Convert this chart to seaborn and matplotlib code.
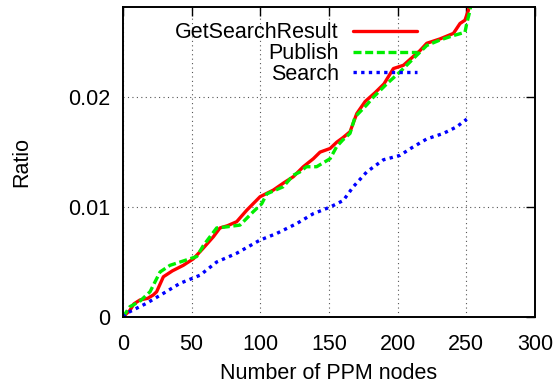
import matplotlib
matplotlib.use("Agg")
import matplotlib.pyplot as plt
import seaborn as sns
import pandas as pd

# GetSearchResult
gsr_x = [0, 5, 8, 12.4, 18, 22, 24.5, 29.4, 36, 43.9, 51.3, 58, 65.8, 70.6, 76, 82.8, 90, 99.8,
         109.5, 117, 124, 131.3, 138.6, 143.5, 150.8, 155.6, 160, 165.3, 170.2, 176.3, 183.5,
         190, 196.9, 204.2, 211.4, 216, 221.2, 230.9, 240.6, 245.4, 249, 251.5, 252.5]
gsr_y = [0, 0.0006, 0.0012, 0.00155, 0.0017, 0.0020, 0.0023, 0.00366, 0.0042, 0.0047, 0.0053,
         0.0062, 0.0073, 0.0081, 0.0083, 0.00867, 0.0097, 0.01094, 0.01155, 0.0122, 0.01276,
         0.01367, 0.0144, 0.0150, 0.01533, 0.0159, 0.0163, 0.01685, 0.0185, 0.0196, 0.0204,
         0.0212, 0.0226, 0.0229, 0.0237, 0.0242, 0.0249, 0.0253, 0.0258, 0.0267, 0.0270,
         0.0279, 0.0285]

# Publish
pub_x = [0, 5, 12, 19.7, 27, 34.2, 46.4, 53.7, 58.5, 68.2, 75.5, 85.2, 95, 101, 104.7, 116.7,
         124, 128.9, 133.5, 141, 150.8, 155.6, 160, 165.3, 169, 177.5, 182.3, 187.2, 192,
         201.7, 211.4, 221.2, 230.9, 240.6, 249, 250.3, 252.7, 253.5]
pub_y = [0, 0.00094, 0.0014, 0.0023, 0.0041, 0.0047, 0.0052, 0.0055, 0.0065, 0.0081, 0.0082,
         0.00836, 0.0096, 0.0103, 0.0112, 0.01185, 0.0129, 0.0132, 0.01367, 0.01367, 0.0144,
         0.0155, 0.0161, 0.0167, 0.0182, 0.0193, 0.0200, 0.0206, 0.0212, 0.0223, 0.0235,
         0.0247, 0.0252, 0.0256, 0.0259, 0.0267, 0.0279, 0.0285]

# Search
sea_x = [0, 2.7, 17.2, 29.4, 41.5, 56.1, 68.2, 82.8, 99.8, 111.9, 126.5, 138.6, 150.8, 160.4,
         167.7, 177.5, 189.6, 201.7, 209, 221.2, 233.3, 243, 250.3]
sea_y = [0, 0.00034, 0.00125, 0.00215, 0.00306, 0.0038, 0.0050, 0.0058, 0.0070, 0.0076,
         0.0085, 0.0094, 0.0100, 0.0106, 0.01185, 0.0132, 0.0143, 0.0147, 0.0153, 0.0162,
         0.0167, 0.0173, 0.0180]

x_ticks = [0, 50, 100, 150, 200, 250, 300]
y_ticks = [0, 0.01, 0.02]
y_tick_labels = ["0", "0.01", "0.02"]

sns.set_theme(style="white")
plt.rcParams["font.family"] = ["Liberation Sans", "DejaVu Sans"]
plt.rcParams["text.color"] = "black"
plt.rcParams["axes.labelcolor"] = "black"

FS = 15.5

fig = plt.figure(figsize=(5.56, 3.85), dpi=100)
ax = fig.add_axes([123/556, 1 - 317/385, 412/556, 310/385])

df_g = pd.DataFrame({"x": gsr_x, "y": gsr_y})
df_p = pd.DataFrame({"x": pub_x, "y": pub_y})
df_s = pd.DataFrame({"x": sea_x, "y": sea_y})

sns.lineplot(data=df_g, x="x", y="y", ax=ax, color="#ff0000", lw=2.4,
             label="GetSearchResult", estimator=None, sort=False)
sns.lineplot(data=df_p, x="x", y="y", ax=ax, color="#00ee00", lw=2.4,
             label="Publish", estimator=None, sort=False)
sns.lineplot(data=df_s, x="x", y="y", ax=ax, color="#0000ff", lw=2.4,
             label="Search", estimator=None, sort=False)
lines = ax.get_lines()
lines[1].set_dashes([2.4, 1.1])
lines[2].set_dashes([1.0, 1.3])

ax.set_xlim(0, 300)
ax.set_ylim(0, 0.0282)
ax.set_xticks(x_ticks)
ax.set_yticks(y_ticks)
ax.set_yticklabels(y_tick_labels)
ax.tick_params(direction="in", length=6.5, width=1, top=True, right=True,
               labelsize=FS, colors="black")
ax.tick_params(axis="y", pad=9)
ax.tick_params(axis="x", pad=12)
ax.grid(True, linestyle=(0, (1, 3)), color="#555555", lw=0.8)
for s in ax.spines.values():
    s.set_color("black")
    s.set_linewidth(1.4)

ax.set_xlabel("Number of PPM nodes", fontsize=FS, labelpad=6, color="black")
ax.set_ylabel("Ratio", fontsize=FS, labelpad=26, color="black")

leg = ax.legend(loc="upper right", bbox_to_anchor=(0.714, 0.95), frameon=False,
                markerfirst=False, fontsize=FS, handlelength=3.0,
                labelspacing=-0.02, handletextpad=0.65, borderpad=0.0,
                borderaxespad=0.0)
for t in leg.get_texts():
    t.set_ha("right")
    t.set_color("black")
leg._legend_box.align = "right"

fig.savefig("out.png", dpi=100)
